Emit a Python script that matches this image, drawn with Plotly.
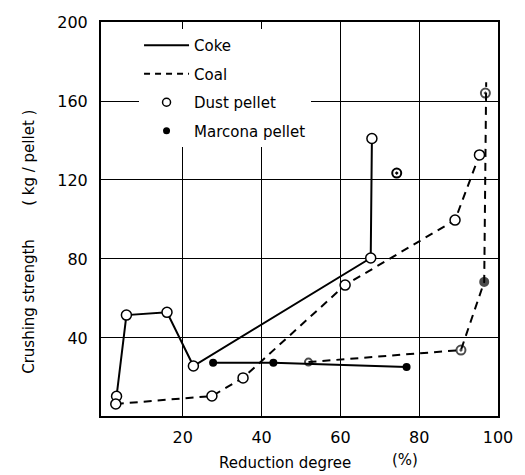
import plotly.graph_objects as go

# Dust pellet, reduced with coke (solid line)
coke_dust_x = [3.2, 5.7, 16.0, 22.7, 67.7, 68.0]
coke_dust_y = [10.5, 51.6, 53.0, 25.8, 80.5, 141.0]

# Dust pellet, reduced with coal (dashed line)
coal_dust_x = [3.0, 27.4, 35.3, 61.2, 89.1, 95.3]
coal_dust_y = [6.6, 10.6, 19.8, 66.8, 99.7, 132.7]

# Marcona pellet, reduced with coke (solid line)
coke_marc_x = [27.7, 43.0, 76.8]
coke_marc_y = [27.4, 27.4, 25.3]

# Marcona pellet, reduced with coal (dashed line)
coal_marc_x = [51.9, 90.6, 96.5, 96.8, 97.0]
coal_marc_y = [27.8, 33.9, 68.4, 164.0, 169.5]

# Isolated Marcona point
single_marc_x = [74.3]
single_marc_y = [123.5]

x_ticks = [20, 40, 60, 80, 100]
y_ticks = [40, 80, 120, 160, 200]

FONT = "DejaVu Sans"
fig = go.Figure()

fig.add_trace(go.Scatter(x=coke_dust_x, y=coke_dust_y, mode="lines+markers",
    line=dict(color="black", width=2),
    marker=dict(symbol="circle", size=10, color="white", line=dict(color="black", width=1.5)),
    showlegend=False))
fig.add_trace(go.Scatter(x=coal_dust_x, y=coal_dust_y, mode="lines+markers",
    line=dict(color="black", width=2, dash="8px,6px"),
    marker=dict(symbol="circle", size=10, color="white", line=dict(color="black", width=1.5)),
    showlegend=False))
fig.add_trace(go.Scatter(x=coke_marc_x, y=coke_marc_y, mode="lines+markers",
    line=dict(color="black", width=2),
    marker=dict(symbol="circle", size=8, color="black"),
    showlegend=False))
fig.add_trace(go.Scatter(x=coal_marc_x, y=coal_marc_y, mode="lines+markers",
    line=dict(color="black", width=2, dash="8px,6px"),
    marker=dict(symbol=["circle-open", "circle-open-dot", "circle", "circle-open-dot", "circle"],
                size=[7, 9, 8, 9, 0], color="black", line=dict(color="black", width=2)),
    showlegend=False))
fig.add_trace(go.Scatter(x=single_marc_x, y=single_marc_y, mode="markers",
    marker=dict(symbol="circle-open-dot", size=9, color="black", line=dict(color="black", width=2)),
    showlegend=False))

# legend entries
fig.add_trace(go.Scatter(x=[None], y=[None], mode="lines", name="Coke", legendgroup="a",
    line=dict(color="black", width=2)))
fig.add_trace(go.Scatter(x=[None], y=[None], mode="lines", name="Coal", legendgroup="b",
    line=dict(color="black", width=2, dash="6px,5px")))
fig.add_trace(go.Scatter(x=[None], y=[None], mode="markers", name="Dust pellet", legendgroup="c",
    marker=dict(symbol="circle", size=8, color="white", line=dict(color="black", width=1.5))))
fig.add_trace(go.Scatter(x=[None], y=[None], mode="markers", name="Marcona pellet", legendgroup="d",
    marker=dict(symbol="circle", size=7, color="black")))

axis_common = dict(showgrid=True, gridcolor="black", gridwidth=1, showline=True,
                   linecolor="black", linewidth=2, mirror=True, ticks="", zeroline=False,
                   tickfont=dict(family=FONT, size=16, color="black"))

fig.update_xaxes(range=[-0.75, 100], tickvals=x_ticks, ticktext=[str(v) for v in x_ticks],
                 ticklabelstandoff=6, **axis_common)
fig.update_yaxes(range=[0.5, 200], tickvals=y_ticks, ticktext=[str(v) for v in y_ticks],
                 ticklabelstandoff=8, **axis_common)

ann = dict(xref="paper", yref="paper", showarrow=False, xanchor="center", yanchor="middle",
           font=dict(family=FONT, size=15, color="black"))
fig.add_annotation(text="Reduction degree", x=(290 - 101) / 407, y=(416 - 463) / 394, **ann)
fig.add_annotation(text="(%)", x=(413 - 101) / 407, y=(416 - 460) / 394, **ann)
fig.add_annotation(text="Crushing strength", x=(27 - 101) / 407, y=(416 - 306) / 394,
                   textangle=-90, **ann)
fig.add_annotation(text="( kg / pellet )", x=(27 - 101) / 407, y=(416 - 158) / 394,
                   textangle=-90, **ann)

fig.update_layout(
    width=525, height=475,
    margin=dict(l=101, r=17, t=22, b=59),
    paper_bgcolor="white", plot_bgcolor="white",
    font=dict(family=FONT, color="black"),
    legend=dict(x=(140 - 101) / 407, y=(416 - 29) / 394, xanchor="left", yanchor="top",
                bgcolor="white", borderwidth=0, tracegroupgap=6,
                font=dict(family=FONT, size=15, color="black"), itemwidth=45),
)

fig.write_html("out.html")
